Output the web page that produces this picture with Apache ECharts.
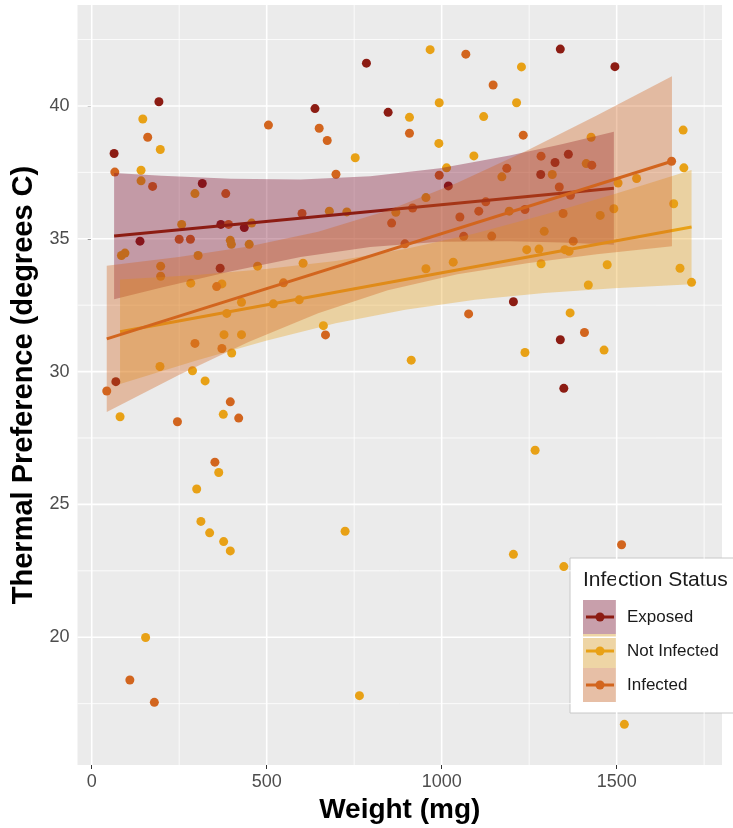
<!DOCTYPE html>
<html><head><meta charset="utf-8">
<script src="https://cdn.jsdelivr.net/npm/echarts@6/dist/echarts.min.js"></script>
<style>html,body{margin:0;padding:0;background:#fff}#c{width:733px;height:828px}</style>
</head><body><div id="c"></div>
<script>
// ---------- data ----------
const groupNames = ['Exposed', 'Not Infected', 'Infected'];

const exposedPoints = [[64,38.21],[192,40.16],[316,37.08],[138,34.91],[369,35.54],[436,35.42],[367,33.89],
 [785,41.61],[638,39.90],[847,39.76],[1019,36.99],[1339,42.14],[1495,41.48],[1324,37.87],[1362,38.18],
 [1283,37.42],[1205,32.63],[1339,31.20],[1349,29.37],[69,29.62]];

const notInfectedPoints = [[146,39.51],[196,38.36],[141,37.58],[141,37.18],[295,36.70],[257,35.54],[457,35.59],
 [396,34.94],[399,34.79],[450,34.79],[85,34.37],[95,34.46],[197,33.97],[197,33.59],[304,34.37],[474,33.97],
 [283,33.33],[372,33.30],[604,34.08],[753,38.05],[679,36.04],[729,36.01],[869,36.0],[908,39.57],[993,40.12],
 [992,38.59],[1120,39.60],[1092,38.12],[1014,37.67],[955,36.55],[955,33.87],[1033,34.12],[967,42.12],
 [1228,41.47],[1214,40.12],[1690,39.09],[1427,38.82],[1413,37.83],[1316,37.42],[1172,37.33],[1504,37.10],
 [1557,37.27],[1692,37.67],[1193,36.04],[1453,35.88],[1492,36.13],[1663,36.32],[1293,35.28],[1243,34.59],
 [1278,34.61],[1352,34.59],[1364,34.53],[1284,34.06],[1473,34.02],[1681,33.89],[1419,33.26],[1714,33.36],
 [81,28.30],[195,30.19],[288,30.03],[324,29.65],[400,30.70],[378,31.39],[428,31.39],[376,28.39],[363,26.20],
 [300,25.58],[312,24.36],[337,23.93],[377,23.60],[396,23.25],[724,23.99],[662,31.73],[428,32.61],[386,32.19],
 [519,32.55],[593,32.70],[1367,32.21],[1464,30.81],[1238,30.72],[913,30.43],[1267,27.04],[1205,23.12],
 [154,19.99],[765,17.80],[1349,22.66],[1522,16.72]];

const infectedPoints = [[160,38.82],[66,37.51],[174,36.97],[505,39.28],[383,36.70],[250,34.98],[282,34.98],
 [391,35.54],[357,33.20],[548,33.34],[601,35.95],[650,39.16],[673,38.70],[698,37.43],[857,35.59],[908,38.97],
 [993,37.39],[917,36.16],[1052,35.82],[1106,36.04],[1126,36.39],[1186,37.65],[1063,35.09],[1143,35.10],
 [895,34.81],[1069,41.95],[1147,40.79],[1233,38.90],[1284,38.11],[1429,37.77],[1336,36.95],[1368,36.64],
 [1238,36.10],[1347,35.95],[1376,34.91],[1657,37.92],[43,29.27],[245,28.11],[295,31.06],[372,30.87],
 [396,28.86],[420,28.25],[352,26.59],[668,31.38],[1077,32.17],[1408,31.47],[1514,23.48],[109,18.39],[179,17.55]];

// fitted lines
const exposedFit = [[64,35.10],[1492,36.90]];
const notInfectedFit = [[81,31.50],[1714,35.44]];
const infectedFit = [[43,31.23],[1658,37.92]];

// confidence bands
const exposedBandX = [64,200,399,597,796,995,1194,1343,1492];
const exposedBandLo = [32.72,33.17,33.78,34.31,34.69,34.89,34.91,34.86,34.77];
const exposedBandHi = [37.48,37.37,37.26,37.23,37.35,37.65,38.13,38.56,39.03];

const notInfectedBandX = [81,299,498,697,896,1095,1293,1492,1714];
const notInfectedBandLo = [29.53,30.42,31.16,31.82,32.33,32.70,32.96,33.14,33.29];
const notInfectedBandHi = [33.47,33.64,33.86,34.16,34.61,35.20,35.90,36.68,37.59];

const infectedBandX = [43,249,448,647,846,1045,1244,1443,1658];
const infectedBandLo = [28.48,29.87,31.11,32.20,33.06,33.66,34.08,34.42,34.72];
const infectedBandHi = [33.98,34.31,34.71,35.26,36.06,37.11,38.32,39.64,41.12];

// ticks
const xTicks = [0, 500, 1000, 1500];
const xMinorTicks = [250, 750, 1250, 1750];
const yTicks = [20, 25, 30, 35, 40];
const yMinorTicks = [17.5, 22.5, 27.5, 32.5, 37.5, 42.5];

// ---------- style ----------
const X_MIN = -40.6, X_MAX = 1801, Y_MIN = 15.19, Y_MAX = 43.80;
const colors = ['#8C1C13', '#E8A116', '#D2651E'];
const bandColors = ['rgba(125,10,45,0.36)', 'rgba(232,161,22,0.35)', 'rgba(210,101,30,0.36)'];
const FONT = '"Liberation Sans", Arial, Helvetica, sans-serif';

function gridSeries(vals, isX, width) {
  return {
    type: 'custom', z: 1, silent: true, animation: false,
    data: vals.map(v => isX ? [v, Y_MIN] : [X_MIN, v]),
    renderItem: (params, api) => {
      const v = api.value(isX ? 0 : 1);
      const p1 = isX ? api.coord([v, Y_MIN]) : api.coord([X_MIN, v]);
      const p2 = isX ? api.coord([v, Y_MAX]) : api.coord([X_MAX, v]);
      return { type: 'line', shape: { x1: p1[0], y1: p1[1], x2: p2[0], y2: p2[1] },
               style: { stroke: '#ffffff', lineWidth: width } };
    }
  };
}

function bandSeries(xs, lo, hi, fill, z) {
  return {
    type: 'custom', z: z, silent: true, animation: false,
    data: xs.map((x, i) => [x, lo[i], hi[i]]),
    encode: { x: 0, y: [1, 2] },
    renderItem: (params, api) => {
      if (params.dataIndex !== 0) return null;
      const pts = [];
      for (let i = 0; i < xs.length; i++) pts.push(api.coord([xs[i], hi[i]]));
      for (let i = xs.length - 1; i >= 0; i--) pts.push(api.coord([xs[i], lo[i]]));
      return { type: 'polygon', shape: { points: pts }, style: { fill: fill } };
    }
  };
}

function scatterSeries(name, data, color) {
  return { name, type: 'scatter', z: 2, data, symbolSize: 9, itemStyle: { color, opacity: 1 } };
}
function fitSeries(name, data, color, z) {
  return { name, type: 'line', z, data, symbol: 'none', lineStyle: { width: 3, color } };
}

// legend graphic
const legendChildren = [
  { type: 'rect', shape: { x: 570, y: 558, width: 180, height: 155 },
    style: { fill: '#ffffff', stroke: '#c8c8c8', lineWidth: 1 } },
  { type: 'text', x: 583, y: 580, style: { text: 'Infection Status', font: '21px ' + FONT, fill: '#1a1a1a', textVerticalAlign: 'middle', verticalAlign: 'middle' } }
];
groupNames.forEach((g, i) => {
  const y0 = 600 + 34 * i, cy = y0 + 17;
  legendChildren.push(
    { type: 'rect', shape: { x: 583, y: y0, width: 34, height: 34 }, style: { fill: '#F2F2F2' } },
    { type: 'rect', shape: { x: 583, y: y0, width: 34, height: 34 }, style: { fill: bandColors[i] } },
    { type: 'line', shape: { x1: 586, y1: cy, x2: 614, y2: cy }, style: { stroke: colors[i], lineWidth: 3 } },
    { type: 'circle', shape: { cx: 600, cy: cy, r: 4.5 }, style: { fill: colors[i] } },
    { type: 'text', x: 627, y: cy, style: { text: g, font: '17px ' + FONT, fill: '#1a1a1a', textVerticalAlign: 'middle', verticalAlign: 'middle' } }
  );
});

const chart = echarts.init(document.getElementById('c'), null, { renderer: 'canvas' });
chart.setOption({
  animation: false,
  backgroundColor: '#ffffff',
  textStyle: { fontFamily: FONT },
  grid: { left: 77.5, top: 5, right: 11, bottom: 63, show: true, backgroundColor: '#EBEBEB', borderWidth: 0, containLabel: false, outerBoundsMode: 'none' },
  xAxis: {
    type: 'value', min: X_MIN, max: X_MAX,
    name: 'Weight (mg)', nameLocation: 'middle', nameGap: 28,
    nameTextStyle: { fontSize: 28, fontWeight: 'bold', color: '#000', fontFamily: FONT },
    axisLine: { show: false },
    axisTick: { show: true, length: 4, customValues: xTicks, lineStyle: { color: '#333', width: 1 } },
    axisLabel: { customValues: xTicks, fontSize: 18, color: '#4D4D4D', margin: 8, fontFamily: FONT,
                 formatter: v => String(v) },
    splitLine: { show: false }
  },
  yAxis: {
    type: 'value', min: Y_MIN, max: Y_MAX,
    name: 'Thermal Preference (degrees C)', nameLocation: 'middle', nameGap: 36, nameRotate: 90,
    nameTextStyle: { fontSize: 29, fontWeight: 'bold', color: '#000', fontFamily: FONT },
    axisLine: { show: false },
    axisTick: { show: true, length: 4, customValues: yTicks, lineStyle: { color: '#333', width: 1 } },
    axisLabel: { customValues: yTicks, fontSize: 18, color: '#4D4D4D', margin: 8, fontFamily: FONT,
                 formatter: v => String(v) },
    splitLine: { show: false }
  },
  series: [
    gridSeries(xMinorTicks, true, 0.8),
    gridSeries(yMinorTicks, false, 0.8),
    gridSeries(xTicks, true, 1.6),
    gridSeries(yTicks, false, 1.6),
    scatterSeries(groupNames[0], exposedPoints, colors[0]),
    scatterSeries(groupNames[1], notInfectedPoints, colors[1]),
    scatterSeries(groupNames[2], infectedPoints, colors[2]),
    bandSeries(exposedBandX, exposedBandLo, exposedBandHi, bandColors[0], 3),
    fitSeries(groupNames[0], exposedFit, colors[0], 4),
    bandSeries(notInfectedBandX, notInfectedBandLo, notInfectedBandHi, bandColors[1], 5),
    fitSeries(groupNames[1], notInfectedFit, colors[1], 6),
    bandSeries(infectedBandX, infectedBandLo, infectedBandHi, bandColors[2], 7),
    fitSeries(groupNames[2], infectedFit, colors[2], 8)
  ],
  graphic: [{ type: 'group', z: 100, children: legendChildren }]
});
</script></body></html>
